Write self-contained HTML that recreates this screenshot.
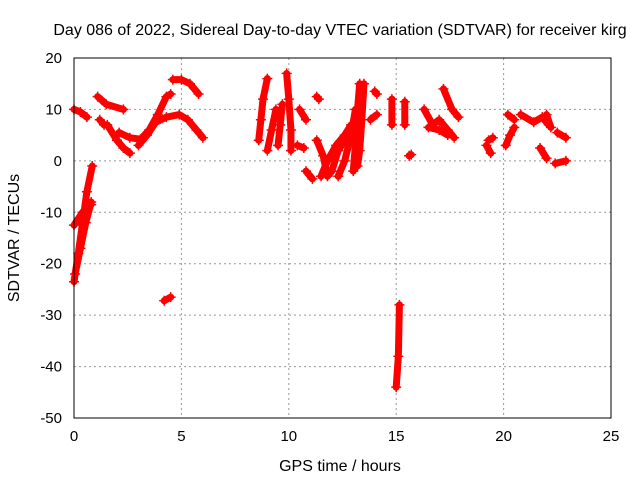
<!DOCTYPE html>
<html><head><meta charset="utf-8"><style>
body{margin:0;background:#fff;width:640px;height:480px;overflow:hidden}
svg{font-family:"Liberation Sans",sans-serif;font-size:15px}
</style></head><body>
<svg id="c" width="640" height="480">
<rect width="640" height="480" fill="#fff"/>
<text x="340" y="35" text-anchor="middle" font-size="16">Day 086 of 2022, Sidereal Day-to-day VTEC variation (SDTVAR) for receiver kirg</text>
<text x="340" y="471" text-anchor="middle" font-size="16">GPS time / hours</text>
<text transform="translate(19,238) rotate(-90)" text-anchor="middle" font-size="16">SDTVAR / TECUs</text>
<g id="grid"></g><g id="marks"></g>
<rect x="74" y="58" width="537" height="360" fill="none" stroke="#000"/>
</svg>
<script>
const xTicks=[0,5,10,15,20,25];
const yTicks=[20,10,0,-10,-20,-30,-40,-50];
const tracks=[
[[0,-23.5],[0.2,-18],[0.4,-12],[0.6,-6],[0.85,-1]],
[[0.05,-22],[0.3,-17],[0.55,-12],[0.8,-8]],
[[0,-12.5],[0.4,-10],[0.8,-8.5]],
[[0,10],[0.3,9.5],[0.6,8.5]],
[[1.1,12.5],[1.5,11],[2.3,10]],
[[1.2,8],[1.4,7]],
[[1.55,7],[2,4],[2.3,2.5],[2.6,1.5]],
[[2.1,5.5],[2.6,4.5],[3.1,4.2],[3.5,6],[3.9,9],[4.3,12.5],[4.5,13]],
[[3,3],[3.4,5],[3.8,7.5],[4.3,8.5],[4.9,9],[5.3,8],[5.7,6],[6,4.5]],
[[4.6,15.8],[5,15.8],[5.4,15],[5.8,13]],
[[4.2,-27.2],[4.5,-26.5]],
[[8.6,4],[8.7,8],[8.8,12],[9,16]],
[[9,2],[9.2,6],[9.4,10]],
[[9.5,3],[9.6,7],[9.7,11]],
[[9.9,17],[10,12],[10.1,6],[10.1,2]],
[[10.5,10],[10.8,8]],[[10.4,3],[10.7,2.5]],[[10.8,-2],[11.1,-3.5]],[[11.3,12.5],[11.4,12]],
[[11.3,4],[11.6,1],[11.8,-3],[12,-2],[12.3,2],[12.6,4]],
[[11.5,-3],[11.8,0],[12.2,3],[12.6,5],[12.9,7]],
[[12.3,-3],[12.6,0],[12.9,5],[13.1,10]],
[[13.3,15],[13.2,10],[13.1,3],[13,-2]],
[[13.5,15],[13.4,8],[13.3,2],[13.2,-1]],
[[13.8,8],[14.1,9]],[[14,13.5],[14.1,13]],[[14.8,12],[14.8,7]],[[15.4,11.5],[15.4,7]],[[15.6,1],[15.7,1.2]],
[[15,-44],[15.1,-38],[15.15,-28]],
[[16.3,10],[16.7,7],[17,8],[17.4,6],[17.7,4.5]],
[[17.2,14],[17.6,10],[17.9,8.5]],
[[16.5,6.5],[17,6],[17.4,5]],
[[19.2,3],[19.4,1.5]],[[19.3,4],[19.5,4.5]],
[[20.1,3],[20.3,5],[20.5,6.5]],[[20.2,9],[20.5,8]],
[[20.8,9],[21.4,7.5],[21.8,8.5],[22.1,7]],
[[21.7,2.5],[22,0.5]],[[22,9],[22.2,6.5]],[[22.5,5.5],[22.9,4.5]],[[22.4,-0.5],[22.9,0]]
];
const NS='http://www.w3.org/2000/svg';
const X=t=>74+t*537/25, Y=v=>58+(20-v)*360/70;
const grid=document.getElementById('grid'),marks=document.getElementById('marks');
function mk(tag,at,par){const e=document.createElementNS(NS,tag);for(const k in at)e.setAttribute(k,at[k]);par.appendChild(e);return e;}
xTicks.forEach(t=>{
 const l=mk('line',{x1:X(t),x2:X(t),y1:58,y2:418,stroke:'#999','stroke-dasharray':'2,3'},grid);
 
 
 const tx=mk('text',{x:X(t),y:441,'text-anchor':'middle'},grid);tx.textContent=t;
 
 
});
yTicks.forEach(v=>{
 const l=mk('line',{x1:74,x2:611,y1:Y(v),y2:Y(v),stroke:'#999','stroke-dasharray':'2,3'},grid);
 
 
 const tx=mk('text',{x:62,y:Y(v)+5,'text-anchor':'end'},grid);tx.textContent=v;
 
 
});
tracks.forEach(tr=>{
 const p=mk('polyline',{points:tr.map(d=>X(d[0])+','+Y(d[1])).join(' '),fill:'none',stroke:'#f00','stroke-width':7,'stroke-linecap':'round','stroke-linejoin':'round'},marks);
 
 
 tr.forEach(d=>{
  const x=X(d[0]),y=Y(d[1]);
  const m=mk('path',{d:`M${x-5},${y}h10M${x},${y-5}v10`,stroke:'#f00','stroke-width':1.5},marks);
  
  
 });
});
</script>
</body></html>
